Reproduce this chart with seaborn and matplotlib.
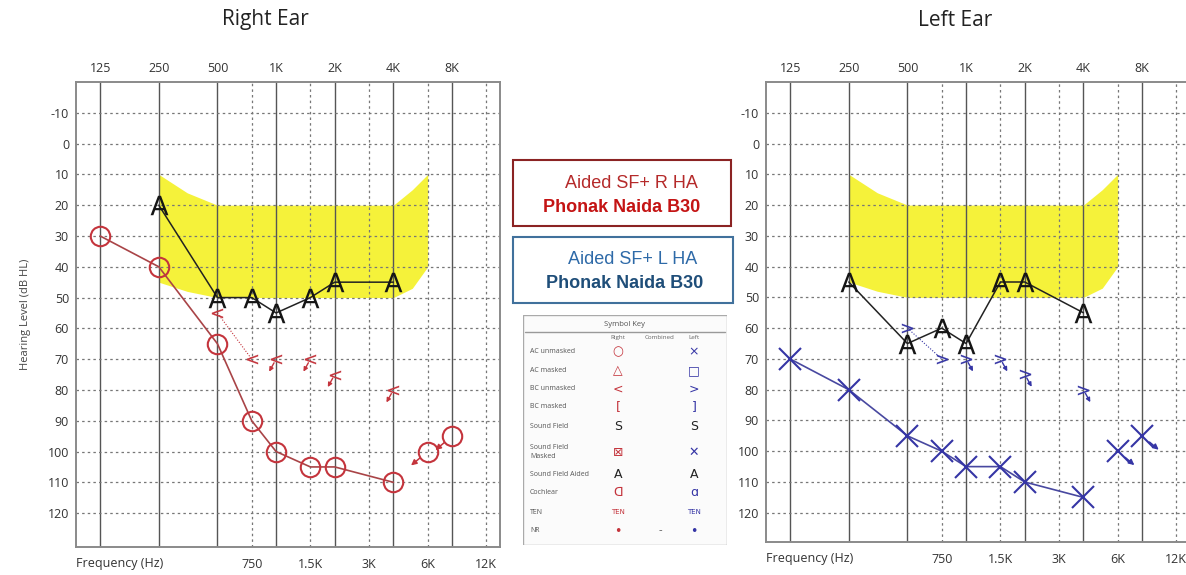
import matplotlib
matplotlib.use('Agg')
import matplotlib.pyplot as plt
from matplotlib.patches import Rectangle
from matplotlib.ticker import FixedLocator, FixedFormatter
import seaborn as sns

# axis ticks
octave_freqs = [125, 250, 500, 1000, 2000, 4000, 8000]
octave_labels = ['125', '250', '500', '1K', '2K', '4K', '8K']
mid_freqs = [750, 1500, 3000, 6000, 12000]
mid_labels = ['750', '1.5K', '3K', '6K', '12K']
db_ticks = list(range(-10, 130, 10))

# speech banana (yellow area)
banana_freq = [250, 350, 500, 1000, 2000, 4000, 5000, 6000]
banana_top = [10, 16, 20, 20, 20, 20, 15, 10]
banana_bottom = [45, 48, 50, 50, 50, 50, 47, 40]

# right ear
r_ac_freq = [125, 250, 500, 750, 1000, 1500, 2000, 4000]
r_ac_db = [30, 40, 65, 90, 100, 105, 105, 110]
r_ac_nr_freq = [6000, 8000]
r_ac_nr_db = [100, 95]
r_bc_freq = [500, 750]
r_bc_db = [55, 70]
r_bc_nr_freq = [1000, 1500, 2000, 4000]
r_bc_nr_db = [70, 70, 75, 80]
r_sfa_freq = [250, 500, 750, 1000, 1500, 2000, 4000]
r_sfa_db = [20, 50, 50, 55, 50, 45, 45]

# left ear
l_ac_freq = [125, 250, 500, 750, 1000, 1500, 2000, 4000]
l_ac_db = [70, 80, 95, 100, 105, 105, 110, 115]
l_ac_nr_freq = [6000, 8000]
l_ac_nr_db = [100, 95]
l_bc_freq = [500, 750]
l_bc_db = [60, 70]
l_bc_nr_freq = [1000, 1500, 2000, 4000]
l_bc_nr_db = [70, 70, 75, 80]
l_sfa_freq = [250, 500, 750, 1000, 1500, 2000, 4000]
l_sfa_db = [45, 65, 60, 65, 45, 45, 55]

# symbol key rows
key_rows = ['AC unmasked', 'AC masked', 'BC unmasked', 'BC masked', 'Sound Field',
            'Sound Field\nMasked', 'Sound Field Aided', 'Cochlear', 'TEN', 'NR']
key_right = ['○', '△', '<', '[', 'S', '⊠', 'A', 'ᗡ', 'TEN', '•']
key_left = ['×', '□', '>', ']', 'S', '✕', 'A', 'ɑ', 'TEN', '•']
key_comb = ['', '', '', '', '', '', '', '', '', '-']

RED = '#c4343c'
RED_LINE = '#a94447'
BLUE = '#3535a5'
BLUE_LINE = '#4848a0'

sns.set_style("white")
plt.rcParams['font.family'] = ['Open Sans', 'DejaVu Sans']

W, H = 1186, 575
fig = plt.figure(figsize=(W / 100, H / 100), dpi=100)


def fx(px):
    return px / W


def fy(py):
    return 1 - py / H


def setup_axes(ax, ylabel=None):
    ax.set_xscale('log', base=2)
    ax.set_xlim(94, 14100)
    ax.set_ylim(131, -20)
    ax.xaxis.set_major_locator(FixedLocator(octave_freqs))
    ax.xaxis.set_major_formatter(FixedFormatter(octave_labels))
    ax.xaxis.set_minor_locator(FixedLocator(mid_freqs))
    ax.xaxis.set_minor_formatter(FixedFormatter(mid_labels))
    ax.set_yticks(db_ticks)
    ax.set_yticklabels([str(v) for v in db_ticks])
    ax.tick_params(which='major', axis='x', length=0, top=False, bottom=False,
                   labeltop=True, labelbottom=False, labelsize=9, colors='#333', pad=5)
    ax.tick_params(which='minor', axis='x', length=0, top=False, bottom=False,
                   labeltop=False, labelbottom=True, labelsize=9, colors='#333', pad=8)
    ax.tick_params(axis='y', length=0, labelsize=9, colors='#333', pad=5)
    ax.set_axisbelow(True)
    ax.grid(which='major', axis='x', color='#555', lw=1.0, ls='-')
    ax.grid(which='minor', axis='x', color='#777', lw=0.9, ls=(0, (2, 2.5)))
    ax.grid(which='major', axis='y', color='#777', lw=0.9, ls=(0, (2, 2.5)))
    for s in ax.spines.values():
        s.set_color('#8a8a8a')
        s.set_linewidth(1.4)
    ax.set_xlabel('')
    ax.set_ylabel(ylabel if ylabel else '', fontsize=8, color='#444', labelpad=12)
    ax.text(0.0, -0.022, 'Frequency (Hz)', transform=ax.transAxes, ha='left', va='top',
            fontsize=9, color='#333')
    ax.fill_between(banana_freq, banana_top, banana_bottom, color='#f5f23a', lw=0, zorder=0.3)


def draw_ear(ax, ac_f, ac_d, acnr_f, acnr_d, bc_f, bc_d, bcnr_f, bcnr_d, sfa_f, sfa_d, right):
    col = RED if right else BLUE
    lcol = RED_LINE if right else BLUE_LINE
    ac_marker = 'o' if right else 'x'
    ac_size = 14 if right else 16
    bc_marker = r'$<$' if right else r'$>$'
    sgn = -1 if right else 1

    # air conduction
    sns.lineplot(x=ac_f, y=ac_d, ax=ax, color=lcol, lw=1.2, marker=ac_marker,
                 markersize=ac_size, markerfacecolor='none',
                 markeredgecolor=col, markeredgewidth=1.5, zorder=4)
    sns.lineplot(x=acnr_f, y=acnr_d, ax=ax, color=lcol, linestyle='none', marker=ac_marker,
                 markersize=ac_size, markerfacecolor='none',
                 markeredgecolor=col, markeredgewidth=1.5, zorder=4)
    for f, d in zip(acnr_f, acnr_d):
        ax.annotate('', xy=(f, d), xytext=(sgn * 12, -10), textcoords='offset points',
                    arrowprops=dict(arrowstyle='<|-', color=col, lw=1.1,
                                    shrinkA=0, shrinkB=7, mutation_scale=8), zorder=4)

    # bone conduction
    sns.lineplot(x=bc_f, y=bc_d, ax=ax, color=col, lw=0.8, ls=(0, (1, 1.5)),
                 marker=bc_marker, markersize=8, markerfacecolor=col,
                 markeredgecolor=col, markeredgewidth=0.1, zorder=4)
    sns.lineplot(x=bcnr_f, y=bcnr_d, ax=ax, color=col, linestyle='none',
                 marker=bc_marker, markersize=8, markerfacecolor=col,
                 markeredgecolor=col, markeredgewidth=0.1, zorder=4)
    for f, d in zip(bcnr_f, bcnr_d):
        ax.annotate('', xy=(f, d), xytext=(sgn * 5, -9), textcoords='offset points',
                    arrowprops=dict(arrowstyle='<|-', color=col, lw=1.0,
                                    shrinkA=0, shrinkB=3, mutation_scale=6), zorder=4)

    # sound field aided
    sns.lineplot(x=sfa_f, y=sfa_d, ax=ax, color='#222', lw=1.1,
                 marker=r'$\mathsf{A}$', markersize=14, markerfacecolor='#151515',
                 markeredgecolor='#151515', markeredgewidth=0, zorder=5)


# left panel: right ear
ax_r = fig.add_axes([fx(76), fy(547), fx(424), 465 / H])
setup_axes(ax_r, 'Hearing Level (dB HL)')
draw_ear(ax_r, r_ac_freq, r_ac_db, r_ac_nr_freq, r_ac_nr_db, r_bc_freq, r_bc_db,
         r_bc_nr_freq, r_bc_nr_db, r_sfa_freq, r_sfa_db, True)

# right panel: left ear
ax_l = fig.add_axes([fx(766), fy(542), fx(424), 460 / H])
setup_axes(ax_l)
ax_l.set_ylim(129.5, -20)
draw_ear(ax_l, l_ac_freq, l_ac_db, l_ac_nr_freq, l_ac_nr_db, l_bc_freq, l_bc_db,
         l_bc_nr_freq, l_bc_nr_db, l_sfa_freq, l_sfa_db, False)

fig.text(fx(265), fy(20), 'Right Ear', ha='center', va='center', fontsize=15, color='#222')
fig.text(fx(955), fy(20), 'Left Ear', ha='center', va='center', fontsize=15, color='#222')

# hearing aid boxes
fig.add_artist(Rectangle((fx(513), fy(226)), fx(218), 66 / H, transform=fig.transFigure,
                         facecolor='white', edgecolor='#8b2323', lw=1.5))
fig.text(fx(631), fy(183), 'Aided SF+ R HA', ha='center', va='center', fontsize=13,
         color='#b52a2a', family='Liberation Sans')
fig.text(fx(622), fy(207), 'Phonak Naida B30', ha='center', va='center', fontsize=13,
         color='#c41414', weight='bold', family='Liberation Sans')
fig.add_artist(Rectangle((fx(513), fy(303)), fx(220), 66 / H, transform=fig.transFigure,
                         facecolor='white', edgecolor='#41719c', lw=1.5))
fig.text(fx(633), fy(259), 'Aided SF+ L HA', ha='center', va='center', fontsize=13,
         color='#2e6aa8', family='Liberation Sans')
fig.text(fx(625), fy(283), 'Phonak Naida B30', ha='center', va='center', fontsize=13,
         color='#1f4e79', weight='bold', family='Liberation Sans')

# symbol key
kx = fig.add_axes([fx(523), fy(545), fx(204), 230 / H])
kx.set_xlim(0, 204)
kx.set_ylim(230, 0)
kx.axis('off')
kx.add_patch(Rectangle((0, 0), 204, 230, facecolor='#fbfbfb', edgecolor='#aaa', lw=1))
kx.text(102, 10, 'Symbol Key', ha='center', va='center', fontsize=5.5, color='#555')
kx.plot([2, 202], [17, 17], color='#999', lw=1)
for xh, lab in zip([95, 137, 171], ['Right', 'Combined', 'Left']):
    kx.text(xh, 23, lab, ha='center', va='center', fontsize=4.5, color='#666')
row_y = [37, 56, 74, 92, 111, 137, 160, 178, 197, 216]
for y, lab, sr, sc, sl in zip(row_y, key_rows, key_right, key_comb, key_left):
    kx.text(7, y, lab, ha='left', va='center', fontsize=5, color='#555', linespacing=1.3)
    rc = '#222' if sr in ('S', 'A') else RED
    lc = '#222' if sl in ('S', 'A') else BLUE
    fs = 5 if sr == 'TEN' else 9
    kx.text(95, y, sr, ha='center', va='center', fontsize=fs, color=rc,
            family=['DejaVu Sans'])
    kx.text(171, y, sl, ha='center', va='center', fontsize=fs, color=lc,
            family=['DejaVu Sans'])
    if sc:
        kx.text(137, y, sc, ha='center', va='center', fontsize=8, color='#555')

fig.savefig('out.png', dpi=100)
